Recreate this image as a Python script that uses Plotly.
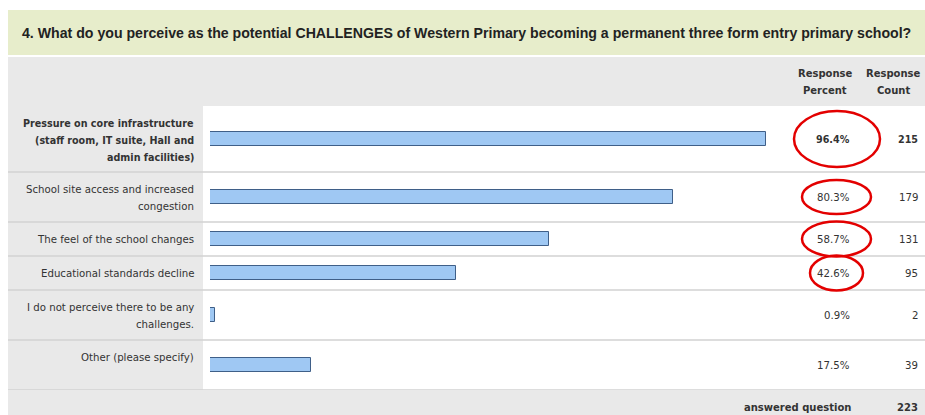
import plotly.graph_objects as go

# ---------------- data ----------------
title_text = ("4. What do you perceive as the potential CHALLENGES of Western Primary "
              "becoming a permanent three form entry primary school?")
categories = [
    "Pressure on core infrastructure\n(staff room, IT suite, Hall and\nadmin facilities)",
    "School site access and increased\ncongestion",
    "The feel of the school changes",
    "Educational standards decline",
    "I do not perceive there to be any\nchallenges.",
    "Other (please specify)",
]
response_percent = [96.4, 80.3, 58.7, 42.6, 0.9, 17.5]
response_count = [215, 179, 131, 95, 2, 39]
answered_question = 223
header_percent = "Response\nPercent"
header_count = "Response\nCount"
footer_label = "answered question"

# ---------------- layout / style ----------------
W, H = 925, 415
ROW_H = [66, 50, 34, 34, 50, 50]          # row heights in px
TABLE_TOP = 106
TABLE_BOTTOM = TABLE_TOP + sum(ROW_H)
BOLD_ROW = [True, False, False, False, False, False]
# hand-drawn red ellipses: (x-left px, x-right px, half height px) or None
ELLIPSES = [(794, 880, 28), (802, 871, 17), (802, 871, 17.5), (810, 863, 17.5), None, None]

FONT = "DejaVu Sans, Verdana, sans-serif"
TXT = "#333333"
SIZE = 10.2
BOLD_SIZE = 9.6


def py(p):
    """pixel-from-top -> paper y"""
    return (H - p) / H


def px(p):
    return p / W


tops, centers = [], []
acc = 0
for h in ROW_H:
    tops.append(acc)
    centers.append(acc + h / 2)
    acc += h

fig = go.Figure()
fig.add_trace(go.Bar(
    x=response_percent, y=centers, orientation="h", width=14,
    marker=dict(color="#9fc8f3", line=dict(color="#3f5f88", width=1)),
    hoverinfo="skip", showlegend=False,
))

shapes = [
    dict(type="rect", xref="paper", yref="paper", x0=px(8), x1=1, y0=py(55), y1=py(10),
         fillcolor="#e7edcb", line=dict(width=0), layer="below"),
    dict(type="rect", xref="paper", yref="paper", x0=px(8), x1=1, y0=0, y1=py(57),
         fillcolor="#e9e9e9", line=dict(width=0), layer="below"),
    dict(type="rect", xref="paper", yref="paper", x0=px(203), x1=1, y0=py(TABLE_BOTTOM), y1=py(TABLE_TOP),
         fillcolor="#ffffff", line=dict(width=0), layer="below"),
]
for t, h in zip(tops, ROW_H):
    shapes.append(dict(type="line", xref="paper", yref="y", x0=px(8), x1=1, y0=t + h, y1=t + h,
                       line=dict(color="#d2d2d2", width=1.5), layer="below"))
for c, e in zip(centers, ELLIPSES):
    if e is None:
        continue
    x0, x1, hh = e
    shapes.append(dict(type="circle", xref="paper", yref="y", x0=px(x0), x1=px(x1),
                       y0=c - hh, y1=c + hh, line=dict(color="#e30000", width=2.5)))

ann = []
ann.append(dict(text="<b>" + title_text + "</b>", xref="paper", yref="paper", x=px(467), y=py(33),
                xanchor="center", yanchor="middle", showarrow=False,
                font=dict(family="Liberation Sans, Arial, sans-serif", size=14.15, color="#222222")))
for txt, xc in ((header_percent, 825), (header_count, 893)):
    for j, line in enumerate(txt.split("\n")):
        ann.append(dict(text="<b>" + line + "</b>", xref="paper", yref="paper", x=px(xc),
                        y=py(73 + 17 * j), xanchor="center", yanchor="middle", showarrow=False,
                        font=dict(family=FONT, size=10, color=TXT)))

for i, (cat, pct, cnt) in enumerate(zip(categories, response_percent, response_count)):
    bold = BOLD_ROW[i]
    b0, b1 = ("<b>", "</b>") if bold else ("", "")
    fs = BOLD_SIZE if bold else SIZE
    for j, line in enumerate(cat.split("\n")):
        ann.append(dict(text=b0 + line + b1, xref="paper", yref="y", x=px(196), y=tops[i] + 17 + 17 * j,
                        xanchor="right", yanchor="middle", showarrow=False,
                        font=dict(family=FONT, size=fs, color=TXT)))
    ann.append(dict(text=b0 + f"{pct:.1f}%" + b1, xref="paper", yref="y", x=px(852), y=centers[i],
                    xanchor="right", yanchor="middle", showarrow=False,
                    font=dict(family=FONT, size=fs, color=TXT)))
    ann.append(dict(text=b0 + f"{cnt}" + b1, xref="paper", yref="y", x=px(920), y=centers[i],
                    xanchor="right", yanchor="middle", showarrow=False,
                    font=dict(family=FONT, size=fs, color=TXT)))

ann.append(dict(text="<b>" + footer_label + "</b>", xref="paper", yref="paper", x=px(853), y=py(407),
                xanchor="right", yanchor="middle", showarrow=False,
                font=dict(family=FONT, size=10, color=TXT)))
ann.append(dict(text=f"<b>{answered_question}</b>", xref="paper", yref="paper", x=px(920), y=py(407),
                xanchor="right", yanchor="middle", showarrow=False,
                font=dict(family=FONT, size=10, color=TXT)))

fig.update_layout(
    width=W, height=H, margin=dict(l=0, r=0, t=0, b=0),
    paper_bgcolor="#ffffff", plot_bgcolor="rgba(0,0,0,0)",
    xaxis=dict(domain=[px(210), px(787)], range=[0, 100], visible=False, fixedrange=True),
    yaxis=dict(domain=[py(TABLE_BOTTOM), py(TABLE_TOP)], range=[sum(ROW_H), 0], visible=False,
               fixedrange=True),
    shapes=shapes, annotations=ann, bargap=0,
)

fig.write_html("out.html", config={"displayModeBar": False},
               post_script="document.body.style.margin='0';document.body.style.overflow='hidden';")
